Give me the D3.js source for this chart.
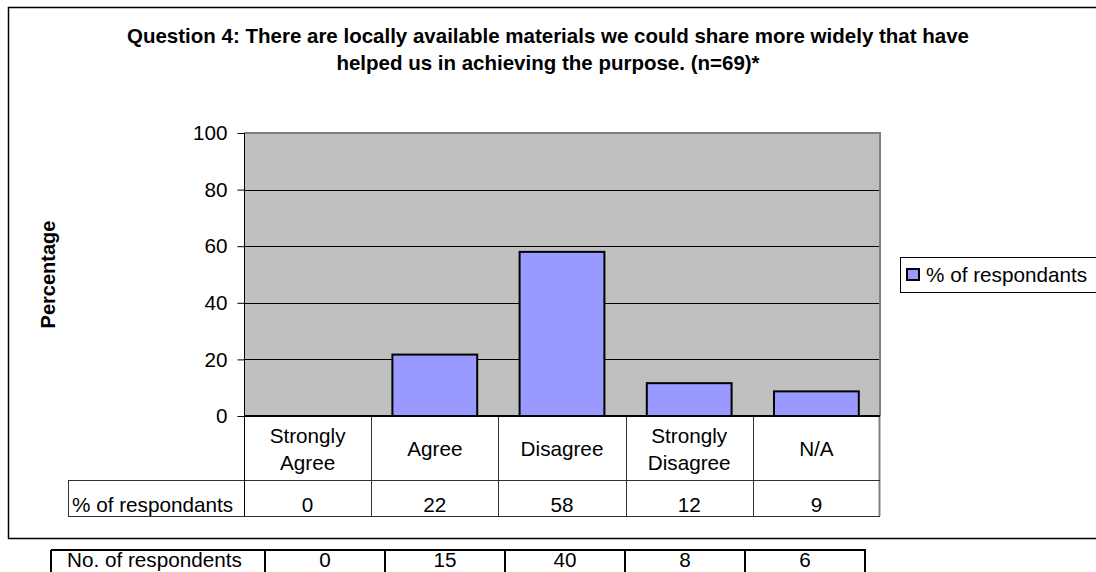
<!DOCTYPE html>
<html>
<head>
<meta charset="utf-8">
<script src="https://cdn.jsdelivr.net/npm/d3@7"></script>
<style>
  html, body { margin: 0; padding: 0; background: #fff; }
  svg { display: block; font-family: "Liberation Sans", Arial, sans-serif; }
</style>
</head>
<body>
<svg id="chart" width="1096" height="572"></svg>
<script>
// ---- data ----
const categories = [["Strongly", "Agree"], ["Agree"], ["Disagree"], ["Strongly", "Disagree"], ["N/A"]];
const categoryKeys = ["Strongly Agree", "Agree", "Disagree", "Strongly Disagree", "N/A"];
const percentValues = [0, 21.7, 58.0, 11.6, 8.7];
const percentLabels = ["0", "22", "58", "12", "9"];
const countValues = ["0", "15", "40", "8", "6"];
const yTicks = [0, 20, 40, 60, 80, 100];
const seriesName = "% of respondants";
const countRowName = "No. of respondents";
const titleLines = ["Question 4: There are locally available materials we could share more widely that have",
                    "helped us in achieving the purpose. (n=69)*"];
const yAxisTitle = "Percentage";

// ---- layout ----
const svg = d3.select("#chart");
const FS = 20.7;
const plot = { left: 244, right: 880, top: 133, bottom: 416 };
const barFill = "#9999FF";

// outer chart border
svg.append("rect")
  .attr("x", 8.5).attr("y", 7.5).attr("width", 1100).attr("height", 531)
  .attr("fill", "#fff").attr("stroke", "#000").attr("stroke-width", 1.5);

// title
svg.append("g").selectAll("text").data(titleLines).join("text")
  .attr("x", 548).attr("y", (d, i) => 43 + i * 27)
  .attr("text-anchor", "middle")
  .attr("font-weight", "bold").attr("font-size", 20.5)
  .text(d => d);

const x = d3.scaleBand().domain(categoryKeys).range([plot.left, plot.right]).paddingInner(1/3).paddingOuter(1/6);
const col = d3.scaleBand().domain(categoryKeys).range([plot.left, plot.right]).padding(0);
const y = d3.scaleLinear().domain([0, 100]).range([plot.bottom, plot.top]);

// plot area background
svg.append("rect")
  .attr("x", plot.left).attr("y", plot.top)
  .attr("width", plot.right - plot.left).attr("height", plot.bottom - plot.top)
  .attr("fill", "#C0C0C0");

// gridlines
svg.append("g").selectAll("line").data(yTicks.filter(t => t > 0 && t < 100)).join("line")
  .attr("x1", plot.left).attr("x2", plot.right)
  .attr("y1", d => Math.round(y(d)) + 0.5).attr("y2", d => Math.round(y(d)) + 0.5)
  .attr("stroke", "#000").attr("stroke-width", 1);

// plot top & right border (gray)
svg.append("path")
  .attr("d", `M${plot.left},${plot.top} H${plot.right} V${plot.bottom}`)
  .attr("fill", "none").attr("stroke", "#808080").attr("stroke-width", 2);

// bars
svg.append("g").selectAll("rect").data(categoryKeys.map((k, i) => ({ k, v: percentValues[i] })).filter(d => d.v > 0)).join("rect")
  .attr("x", d => x(d.k)).attr("width", x.bandwidth())
  .attr("y", d => y(d.v)).attr("height", d => y(0) - y(d.v))
  .attr("fill", barFill).attr("stroke", "#000").attr("stroke-width", 2);

// y axis
const yAxis = d3.axisLeft(y).tickValues(yTicks).tickSize(7).tickPadding(10).tickSizeOuter(0);
const gy = svg.append("g").attr("transform", `translate(${plot.left + 0.5},0)`).call(yAxis);
gy.select(".domain").remove();
gy.selectAll(".tick line").attr("stroke", "#000");
gy.selectAll(".tick text").attr("font-size", FS).attr("font-family", "Liberation Sans, Arial, sans-serif").attr("fill", "#000");

// y axis title
svg.append("text")
  .attr("transform", `translate(55,${(plot.top + plot.bottom) / 2}) rotate(-90)`)
  .attr("text-anchor", "middle").attr("font-weight", "bold").attr("font-size", 20)
  .text(yAxisTitle);

// ---- data table ----
const row1Bottom = 480, row2Bottom = 516, labelLeft = 68;
const tbl = svg.append("g").attr("stroke", "#333").attr("stroke-width", 1);
tbl.selectAll("line.v").data(categoryKeys).join("line").attr("class", "v")
  .attr("x1", d => Math.round(col(d)) + 0.5).attr("x2", d => Math.round(col(d)) + 0.5)
  .attr("y1", plot.bottom).attr("y2", row2Bottom);
tbl.append("line").attr("x1", plot.right - 0.5).attr("x2", plot.right - 0.5)
  .attr("y1", plot.bottom).attr("y2", row2Bottom).attr("stroke", "#808080").attr("stroke-width", 2);
tbl.append("line").attr("x1", labelLeft + 0.5).attr("x2", labelLeft + 0.5).attr("y1", row1Bottom).attr("y2", row2Bottom);
tbl.append("line").attr("x1", labelLeft).attr("x2", plot.right).attr("y1", row1Bottom + 0.5).attr("y2", row1Bottom + 0.5);
tbl.append("line").attr("x1", labelLeft).attr("x2", plot.right).attr("y1", row2Bottom + 0.5).attr("y2", row2Bottom + 0.5);
svg.append("line").attr("x1", plot.left + 0.5).attr("x2", plot.left + 0.5)
  .attr("y1", plot.top).attr("y2", row2Bottom).attr("stroke", "#000").attr("stroke-width", 1);
svg.append("line").attr("x1", plot.left).attr("x2", plot.right)
  .attr("y1", plot.bottom).attr("y2", plot.bottom).attr("stroke", "#000").attr("stroke-width", 2);

// category labels
const catG = svg.append("g").attr("font-size", FS).attr("text-anchor", "middle");
categoryKeys.forEach((k, i) => {
  const lines = categories[i];
  const cx = col(k) + col.bandwidth() / 2;
  const t = catG.append("text").attr("x", cx).attr("y", lines.length === 1 ? 455.5 : 443);
  lines.forEach((ln, j) => t.append("tspan").attr("x", cx).attr("dy", j === 0 ? 0 : 26.5).text(ln));
});
// value row
svg.append("g").attr("font-size", FS).attr("text-anchor", "middle")
  .selectAll("text").data(categoryKeys).join("text")
  .attr("x", d => col(d) + col.bandwidth() / 2).attr("y", 512)
  .text((d, i) => percentLabels[i]);
svg.append("text").attr("x", 72).attr("y", 512).attr("font-size", FS).text(seriesName);

// legend
svg.append("rect").attr("x", 900.5).attr("y", 257.5).attr("width", 220).attr("height", 35)
  .attr("fill", "#fff").attr("stroke", "#000").attr("stroke-width", 1);
svg.append("rect").attr("x", 907).attr("y", 269).attr("width", 12).attr("height", 11)
  .attr("fill", barFill).attr("stroke", "#000").attr("stroke-width", 2);
svg.append("text").attr("x", 926).attr("y", 282).attr("font-size", FS).text(seriesName);

// ---- second table (counts) ----
const t2Top = 550, t2Left = 51, t2FirstRight = 265, t2ColW = 120;
const cols2 = d3.scaleBand().domain(categoryKeys).range([t2FirstRight, t2FirstRight + t2ColW * categoryKeys.length]).padding(0);
const t2 = svg.append("g").attr("stroke", "#000").attr("stroke-width", 2).attr("fill", "none");
t2.append("line").attr("x1", t2Left).attr("x2", cols2.range()[1] + 1).attr("y1", t2Top).attr("y2", t2Top);
t2.append("line").attr("x1", t2Left).attr("x2", t2Left).attr("y1", t2Top).attr("y2", 600);
t2.selectAll("line.c").data(categoryKeys).join("line").attr("class", "c")
  .attr("x1", d => cols2(d)).attr("x2", d => cols2(d)).attr("y1", t2Top).attr("y2", 600);
t2.append("line").attr("x1", cols2.range()[1]).attr("x2", cols2.range()[1]).attr("y1", t2Top).attr("y2", 600);
svg.append("text").attr("x", 67).attr("y", 567).attr("font-size", FS).text(countRowName);
svg.append("g").attr("font-size", FS).attr("text-anchor", "middle")
  .selectAll("text").data(categoryKeys).join("text")
  .attr("x", d => cols2(d) + cols2.bandwidth() / 2).attr("y", 567)
  .text((d, i) => countValues[i]);
</script>
</body>
</html>
